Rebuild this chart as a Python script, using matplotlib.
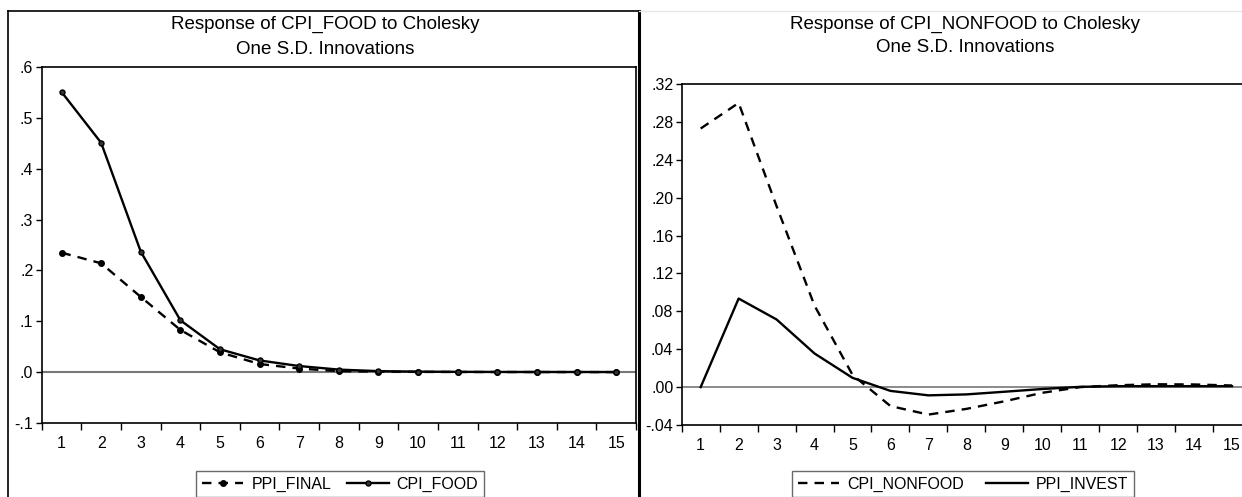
import matplotlib
matplotlib.use("Agg")
import matplotlib.pyplot as plt
from matplotlib.lines import Line2D
from matplotlib.ticker import FuncFormatter
import numpy as np

plt.rcParams["font.family"] = ["Liberation Sans", "DejaVu Sans"]

periods = list(range(1, 16))

# left panel: response of CPI_FOOD
ppi_final = [0.235, 0.214, 0.148, 0.083, 0.039, 0.016, 0.007, 0.002, 0.001,
             0.0005, 0.0003, 0.0002, 0.0002, 0.0001, 0.0001]
cpi_food = [0.551, 0.451, 0.237, 0.102, 0.045, 0.023, 0.012, 0.005, 0.002,
            0.001, 0.0006, 0.0004, 0.0003, 0.0003, 0.0002]

# right panel: response of CPI_NONFOOD
cpi_nonfood = [0.273, 0.300, 0.191, 0.086, 0.013, -0.020, -0.029, -0.023, -0.015,
               -0.006, 0.0, 0.002, 0.003, 0.0028, 0.0017]
ppi_invest = [0.0, 0.0935, 0.0714, 0.0355, 0.0098, -0.004, -0.0087, -0.0077, -0.0049,
              -0.002, 0.0003, 0.001, 0.001, 0.001, 0.001]

W, H = 1242, 497
fig = plt.figure(figsize=(W / 100, H / 100), dpi=100)


def fmt(decimals):
    def f(v, pos):
        s = f"{v:.{decimals}f}"
        if s.startswith("-0."):
            s = "-" + s[2:]
        elif s.startswith("0."):
            s = s[1:]
        return s
    return FuncFormatter(f)


def px_axes(x0, x1, ytop, ybot):
    return fig.add_axes([x0 / W, 1 - ybot / H, (x1 - x0) / W, (ybot - ytop) / H])


def style(ax, ylim, yticks, dec):
    ax.set_xlim(0.5, 15.5)
    ax.set_ylim(*ylim)
    ax.set_yticks(yticks)
    ax.yaxis.set_major_formatter(fmt(dec))
    ax.set_xticks(periods)
    ax.set_xticks(np.arange(0.5, 16, 1), minor=True)
    ax.tick_params(axis="x", which="major", length=0, pad=9, labelsize=11.5)
    ax.tick_params(axis="x", which="minor", length=5, width=1, direction="out")
    ax.tick_params(axis="y", length=4, width=1, direction="out", pad=2, labelsize=11.5)
    for sp in ax.spines.values():
        sp.set_linewidth(1.2)


# left chart
ax1 = px_axes(41.7, 636, 67, 423)
style(ax1, (-0.1, 0.6), np.arange(-0.1, 0.61, 0.1), 1)
ax1.axhline(0, color="#777777", lw=1.5, zorder=1)
ax1.plot(periods, ppi_final, color="black", ls=(0, (4, 3)), lw=1.7,
         marker="o", ms=4, mfc="black", label="PPI_FINAL")
ax1.plot(periods, cpi_food, color="black", ls="-", lw=1.7,
         marker="o", ms=3.6, mfc="#333333", mew=1.0, label="CPI_FOOD")
leg1 = ax1.legend(loc="center", bbox_to_anchor=(340 / W, 1 - 484 / H),
                  bbox_transform=fig.transFigure, ncol=2, fontsize=11.5,
                  frameon=True, fancybox=False, handlelength=2.6,
                  columnspacing=1.0, handletextpad=0.5, borderpad=0.35)
leg1.get_frame().set_edgecolor("#444444")
leg1.get_frame().set_linewidth(1.0)

# right chart
ax2 = px_axes(681.7, 1251, 84, 425)
style(ax2, (-0.04, 0.32), np.arange(-0.04, 0.321, 0.04), 2)
ax2.spines["right"].set_visible(False)
ax2.axhline(0, color="#777777", lw=1.2, zorder=1)
ax2.plot(periods, cpi_nonfood, color="black", ls=(0, (4, 3)), lw=1.7, label="CPI_NONFOOD")
ax2.plot(periods, ppi_invest, color="black", ls="-", lw=1.7, label="PPI_INVEST")
leg2 = ax2.legend(loc="center", bbox_to_anchor=(963 / W, 1 - 484 / H),
                  bbox_transform=fig.transFigure, ncol=2, fontsize=11.5,
                  frameon=True, fancybox=False, handlelength=2.6,
                  columnspacing=1.4, handletextpad=0.5, borderpad=0.35)
leg2.get_frame().set_edgecolor("#444444")
leg2.get_frame().set_linewidth(1.0)

# titles
fig.text(325 / W, 1 - 24 / H, "Response of CPI_FOOD to Cholesky", ha="center", va="center", fontsize=13.5)
fig.text(325 / W, 1 - 49 / H, "One S.D. Innovations", ha="center", va="center", fontsize=13.5)
fig.text(965 / W, 1 - 24 / H, "Response of CPI_NONFOOD to Cholesky", ha="center", va="center", fontsize=13.5)
fig.text(965 / W, 1 - 48 / H, "One S.D. Innovations", ha="center", va="center", fontsize=13.5)

# panel frame lines
fig.add_artist(Line2D([8 / W, 8 / W], [0, 1 - 11 / H], color="black", lw=1.2))
fig.add_artist(Line2D([8 / W, 639 / W], [1 - 11 / H, 1 - 11 / H], color="black", lw=1.2))
fig.add_artist(Line2D([639 / W, 639 / W], [0, 1 - 11 / H], color="black", lw=2.2))
fig.add_artist(Line2D([639 / W, 1], [1 - 11 / H, 1 - 11 / H], color="#e6e6e6", lw=1.0))

fig.savefig("out.png", dpi=100)
